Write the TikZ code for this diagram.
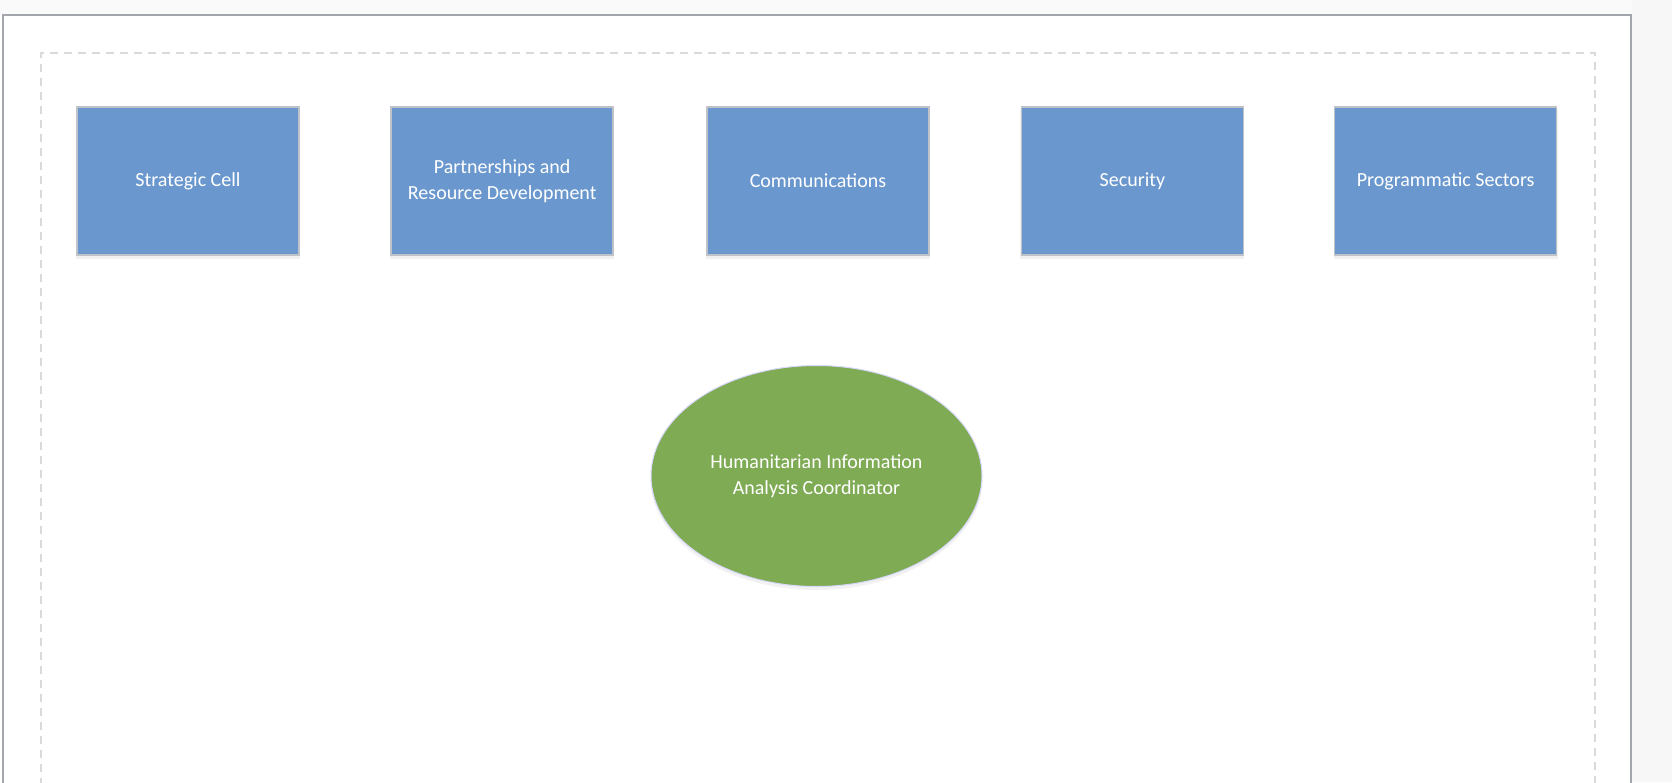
\documentclass[tikz,border=0pt]{standalone}
\usepackage{fontspec}
\setmainfont{Carlito}
\usetikzlibrary{shapes.geometric}
\definecolor{boxblue}{HTML}{6A98CE}
\definecolor{boxedge}{HTML}{BFC3C8}
\definecolor{ovalgreen}{HTML}{7FAB55}
\definecolor{pageedge}{HTML}{A3A7AB}
\definecolor{dashgray}{HTML}{DADADA}
\definecolor{sidegray}{HTML}{F7F7F7}
\tikzset{
  unitbox/.style={draw=boxedge, line width=1.5pt, fill=boxblue, minimum width=222pt, minimum height=148pt,
    inner sep=0pt, align=center, text=white, font=\fontsize{20}{26}\selectfont},
  shadowbox/.style={fill=black!6, draw=none, minimum width=224pt, minimum height=150pt, inner sep=0pt},
  oval/.style={ellipse, draw=white!85!blue, line width=1pt, fill=ovalgreen, minimum width=331pt, minimum height=221pt,
    inner sep=0pt, align=center, text=white, font=\fontsize{20}{26}\selectfont},
}
\begin{document}
\begin{tikzpicture}[x=1pt,y=-1pt]
\useasboundingbox (0,0) rectangle (1672,782);
\fill[white] (0,0) rectangle (1672,782);
\fill[sidegray] (1632,0) rectangle (1672,782);
\fill[white!98!black] (0,0) rectangle (1632,14);
% page
\draw[pageedge, line width=2pt] (2.5,800) -- (2.5,14.5) -- (1631,14.5) -- (1631,800);
% dashed frame
\draw[dashgray, line width=1.5pt, dash pattern=on 8pt off 6pt] (41,800) -- (41,53) -- (1595,53) -- (1595,800);
% shadows
\foreach \cx in {188,502.2,818,1132.4,1445.6}
  \node[shadowbox] at (\cx,184) {};
% boxes
\node[unitbox] (sc) at (188,181) {Strategic Cell};
\node[unitbox] (prd) at (502.2,181) {Partnerships and\\Resource Development};
\node[unitbox] (com) at (818,181) {Communications};
\node[unitbox] (sec) at (1132.4,181) {Security};
\node[unitbox] (ps) at (1445.6,181) {Programmatic Sectors};
% oval
\fill[black!5] (816.5,479) ellipse [x radius=166, y radius=111];
\node[oval] (hiac) at (816.5,476) {Humanitarian Information\\Analysis Coordinator};
\end{tikzpicture}
\end{document}
